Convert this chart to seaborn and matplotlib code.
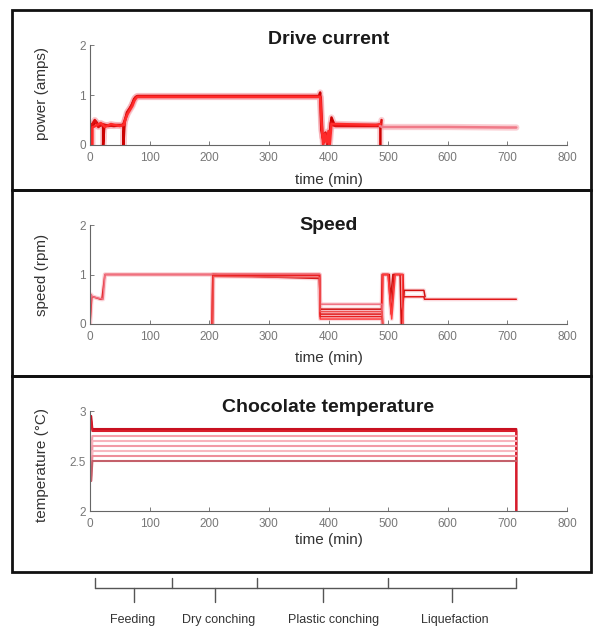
import numpy as np
import pandas as pd
import matplotlib
matplotlib.use("Agg")
import matplotlib.pyplot as plt
from matplotlib.patches import Rectangle
import seaborn as sns

# ---------------- data ----------------
# Drive current (amps) for each conching batch
current_t_1 = [0, 0, 5, 10, 15, 20, 22, 22, 24, 40, 55, 56, 56, 58, 62, 66, 70, 74, 78, 200, 384, 386, 388, 392, 396, 400, 403, 405, 410, 486, 487, 487]
current_v_1 = [0, 0.42, 0.40, 0.47, 0.38, 0.40, 0.40, 0.0, 0.40, 0.38, 0.40, 0.40, 0.0, 0.45, 0.65, 0.72, 0.80, 0.92, 0.97, 0.97, 0.97, 1.05, 0.30, 0.05, 0.20, 0.0, 0.30, 0.55, 0.40, 0.40, 0.40, 0.0]
current_t_2 = [2, 2, 8, 14, 20, 30, 45, 54, 56, 60, 64, 68, 72, 76, 80, 300, 385, 387, 390, 395, 398, 401, 404, 406, 412, 488, 489]
current_v_2 = [0, 0.38, 0.50, 0.36, 0.42, 0.38, 0.40, 0.40, 0.42, 0.55, 0.68, 0.75, 0.85, 0.95, 0.98, 0.98, 0.98, 0.95, 0.15, 0.25, 0.0, 0.10, 0.45, 0.40, 0.38, 0.38, 0.50]
current_t_3 = [4, 4, 12, 18, 25, 35, 50, 57, 59, 63, 67, 71, 75, 79, 250, 386, 388, 391, 394, 397, 400, 402, 405, 415, 480, 487]
current_v_3 = [0, 0.35, 0.40, 0.44, 0.36, 0.42, 0.38, 0.40, 0.50, 0.62, 0.70, 0.78, 0.90, 0.96, 0.96, 0.96, 0.50, 0.0, 0.22, 0.05, 0.28, 0.0, 0.42, 0.42, 0.40, 0.42]
current_t_4 = [486, 490, 600, 700, 715]
current_v_4 = [0.38, 0.36, 0.36, 0.35, 0.35]

# Rotor speed (rpm) for each batch
speed_t_1 = [0, 3, 5, 18, 20, 25, 385, 386, 490, 491, 500, 505, 510, 525, 526, 560, 561, 715]
speed_v_1 = [0, 0.55, 0.55, 0.50, 0.50, 1.00, 1.00, 0.20, 0.20, 1.00, 1.00, 0.20, 1.00, 1.00, 0.55, 0.55, 0.50, 0.50]
speed_t_2 = [205, 206, 300, 385, 386, 489, 490, 502, 504, 508, 520, 522, 527, 560, 562]
speed_v_2 = [0, 1.00, 0.95, 0.92, 0.30, 0.30, 1.00, 1.00, 0.50, 1.00, 1.00, 0.00, 0.68, 0.68, 0.55]
speed_t_3 = [205, 206, 385, 386, 490, 491, 500, 506, 512, 524, 525]
speed_v_3 = [0, 1.00, 1.00, 0.10, 0.10, 1.00, 1.00, 0.10, 1.00, 1.00, 0.00]
speed_t_4 = [0, 2, 4, 22, 25, 385, 386, 490, 490]
speed_v_4 = [0, 0.60, 0.55, 0.50, 1.00, 1.00, 0.40, 0.40, 0.00]
speed_t_5 = [205, 206, 385, 386, 490, 491]
speed_v_5 = [0, 0.98, 0.98, 0.15, 0.15, 0.00]
speed_t_6 = [206, 207, 385, 386, 490, 491]
speed_v_6 = [0, 0.96, 0.94, 0.25, 0.25, 0.00]

# Chocolate temperature for each batch
temp_t = [2, 4, 715, 715]
temp_v_1 = [2.95, 2.82, 2.82, 2.00]
temp_v_2 = [2.90, 2.80, 2.80, 2.00]
temp_v_3 = [2.60, 2.75, 2.75, 2.75]
temp_v_4 = [2.45, 2.70, 2.70, 2.70]
temp_v_5 = [2.35, 2.65, 2.65, 2.65]
temp_v_6 = [2.30, 2.60, 2.60, 2.60]
temp_v_7 = [2.40, 2.55, 2.55, 2.55]
temp_v_8 = [2.30, 2.50, 2.50, 2.50]

# Process phases shown below the time axis
phase_bounds = [8, 138, 280, 500, 715]
phase_names = ["Feeding", "Dry conching", "Plastic conching", "Liquefaction"]
phase_label_x = [72, 215, 409, 612]

x_ticks = [0, 100, 200, 300, 400, 500, 600, 700, 800]


def long_table(runs):
    frames = []
    for i, (t, v) in enumerate(runs):
        frames.append(pd.DataFrame({"t": t, "v": v, "run": i, "order": range(len(t))}))
    return pd.concat(frames, ignore_index=True)


current_df = long_table([(current_t_1, current_v_1), (current_t_2, current_v_2),
                         (current_t_3, current_v_3), (current_t_4, current_v_4)])
speed_df = long_table([(speed_t_1, speed_v_1), (speed_t_2, speed_v_2), (speed_t_3, speed_v_3),
                       (speed_t_4, speed_v_4), (speed_t_5, speed_v_5), (speed_t_6, speed_v_6)])
temp_df = long_table([(temp_t, temp_v_1), (temp_t, temp_v_2), (temp_t, temp_v_3), (temp_t, temp_v_4),
                      (temp_t, temp_v_5), (temp_t, temp_v_6), (temp_t, temp_v_7), (temp_t, temp_v_8)])

# ---------------- style ----------------
sns.set_style("ticks")
plt.rcParams["font.family"] = ["Liberation Sans", "DejaVu Sans"]

W, H = 596, 629
fig = plt.figure(figsize=(W / 100, H / 100), dpi=100)


def fx(px):
    return px / W


def fy(py):
    return 1 - py / H


ax_left, ax_right = 90, 567
panels = [
    # (axes top px, axes bottom px)
    (45, 145),
    (225, 324),
    (411, 511),
]
axes = []
for top, bottom in panels:
    ax = fig.add_axes([fx(ax_left), fy(bottom), fx(ax_right - ax_left), (bottom - top) / H])
    axes.append(ax)

ax1, ax2, ax3 = axes

# soft halo under the drive-current traces, then the traces themselves
sns.lineplot(data=current_df, x="t", y="v", units="run", estimator=None, sort=False,
             color="#f7a5ae", linewidth=4.5, alpha=0.55, legend=False, ax=ax1)
sns.lineplot(data=current_df, x="t", y="v", hue="run", units="run", estimator=None, sort=False,
             palette=["#cc0000", "#e01010", "#ff2a2a", "#f07a88"], linewidth=1.8, legend=False, ax=ax1)

sns.lineplot(data=speed_df, x="t", y="v", units="run", estimator=None, sort=False,
             color="#f9b5bd", linewidth=3.0, alpha=0.45, legend=False, ax=ax2)
sns.lineplot(data=speed_df, x="t", y="v", hue="run", units="run", estimator=None, sort=False,
             palette=["#e01818", "#d01010", "#ff3b3b", "#f07080", "#e82020", "#f05050"],
             linewidth=1.1, legend=False, ax=ax2)

sns.lineplot(data=temp_df, x="t", y="v", hue="run", units="run", estimator=None, sort=False,
             palette=["#c81020", "#d81c2c", "#f5a0ab", "#f7b3bc", "#f29aa6", "#f7b8c0", "#ee8e9a", "#c4606a"],
             linewidth=1.5, legend=False, ax=ax3)

ylims = [(0, 2), (0, 2), (2, 3)]
yticks = [[0, 1, 2], [0, 1, 2], [2, 2.5, 3]]
ylabels = ["power (amps)", "speed (rpm)", "temperature (°C)"]
titles = ["Drive current", "Speed", "Chocolate temperature"]
title_y = [40, 226, 407]
ylabel_y = [93, 275, 465]
xlabel_y = [180, 358, 540]

for i, ax in enumerate(axes):
    ax.set_xlim(0, 800)
    ax.set_ylim(*ylims[i])
    ax.set_xticks(x_ticks)
    ax.set_yticks(yticks[i])
    ax.set_yticklabels([f"{v:g}" for v in yticks[i]])
    ax.tick_params(direction="in", length=3, width=0.6, colors="#666666", labelsize=8.5,
                   labelcolor="#777777", pad=5)
    ax.tick_params(axis="y", pad=3)
    ax.set_xlabel("")
    ax.set_ylabel("")
    sns.despine(ax=ax)
    for s in ("left", "bottom"):
        ax.spines[s].set_color("#666666")
        ax.spines[s].set_linewidth(0.8)
    ax.set_facecolor("none")
    cx = (ax_left + ax_right) / 2
    fig.text(fx(cx), fy(title_y[i]), titles[i], ha="center", va="center",
             fontsize=14, fontweight="bold", color="#1a1a1a")
    fig.text(fx(42), fy(ylabel_y[i]), ylabels[i], rotation=90, ha="center", va="center",
             fontsize=11, color="#333333")
    fig.text(fx(cx), fy(xlabel_y[i]), "time (min)", ha="center", va="center",
             fontsize=11, color="#333333")

# Panel frames
frames_px = [(12, 10, 591, 190), (12, 190, 591, 376), (12, 376, 591, 572)]
for x0, y0, x1, y1 in frames_px:
    fig.add_artist(Rectangle((fx(x0), fy(y1)), fx(x1 - x0), (y1 - y0) / H, transform=fig.transFigure,
                             fill=False, edgecolor="#111111", linewidth=2.0))

# Phase brace under the last panel (y measured in pixels from the bottom edge)
axb = fig.add_axes([fx(ax_left), 0, fx(ax_right - ax_left), 56 / H])
axb.set_xlim(0, 800)
axb.set_ylim(0, 56)
axb.axis("off")
brace_y, end_top, mid_bottom = 41, 51, 27
brace_col = "#555555"
axb.plot([phase_bounds[0], phase_bounds[-1]], [brace_y, brace_y], color=brace_col, lw=1.0)
for b in phase_bounds:
    axb.plot([b, b], [brace_y, end_top], color=brace_col, lw=1.0)
for a, b in zip(phase_bounds[:-1], phase_bounds[1:]):
    m = (a + b) / 2
    axb.plot([m, m], [brace_y, mid_bottom], color=brace_col, lw=1.0)
for name, lx in zip(phase_names, phase_label_x):
    axb.text(lx, 9, name, ha="center", va="center", fontsize=9, color="#333333")

fig.savefig("out.png", dpi=100)
